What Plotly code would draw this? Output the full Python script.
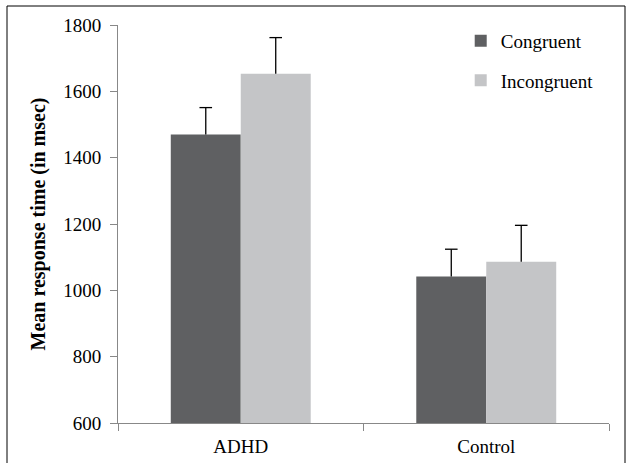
import plotly.graph_objects as go

categories = ["ADHD", "Control"]
congruent = [1470, 1042]
congruent_err = [81, 82]
incongruent = [1653, 1086]
incongruent_err = [109, 110]
y_ticks = [600, 800, 1000, 1200, 1400, 1600, 1800]

FONT = "Liberation Serif"
W, H = 632, 463
L, R, T, B = 118, 23, 25, 40
BARGAP = 0.43

fig = go.Figure()
series = [
    ("Congruent", congruent, congruent_err, "#5f6062", "a"),
    ("Incongruent", incongruent, incongruent_err, "#c4c5c7", "b"),
]
for name, vals, errs, color, grp in series:
    fig.add_trace(go.Bar(
        x=categories, y=vals, name=name, legendgroup=grp, offsetgroup=grp,
        marker=dict(color=color, line=dict(width=0)),
        error_y=dict(type="data", array=errs, symmetric=False,
                     arrayminus=[0] * len(errs), color="black",
                     thickness=1.3, width=0),
    ))
for name, vals, errs, color, grp in series:
    fig.add_trace(go.Scatter(
        x=categories, y=[v + e for v, e in zip(vals, errs)],
        mode="markers", offsetgroup=grp, showlegend=False, hoverinfo="skip",
        marker=dict(symbol="line-ew", size=9, color="black",
                    line=dict(color="black", width=1.3)),
    ))

pw, ph = W - L - R, H - T - B
fig.add_shape(type="rect", xref="paper", yref="paper",
              x0=(7 - L) / pw, x1=(625 - L) / pw,
              y0=-(470 - T - ph) / ph, y1=(T + ph - 6) / ph,
              line=dict(color="black", width=1), layer="below")

fig.update_layout(
    width=W, height=H,
    margin=dict(l=L, r=R, t=T, b=B, pad=0, autoexpand=False),
    paper_bgcolor="white", plot_bgcolor="white",
    barmode="group", bargap=BARGAP, bargroupgap=0,
    scattermode="group", scattergap=BARGAP,
    font=dict(family=FONT, size=19, color="black"),
    showlegend=True,
    legend=dict(x=0.698, y=1.008, xanchor="left", yanchor="top",
                tracegroupgap=12, font=dict(size=19, family=FONT),
                bgcolor="rgba(0,0,0,0)", itemwidth=30),
    xaxis=dict(type="category", showline=True, linecolor="#888888", linewidth=1,
               ticks="outside", tickson="boundaries", ticklen=7, tickcolor="#888888",
               showgrid=False, ticklabelstandoff=6, automargin=False,
               tickfont=dict(size=19, family=FONT)),
    yaxis=dict(range=[600, 1800], tickvals=y_ticks, showline=True,
               linecolor="#888888", linewidth=1, ticks="outside", ticklen=7,
               tickcolor="#888888", showgrid=False, zeroline=False,
               ticklabelstandoff=5, automargin=False, tickfont=dict(size=19, family=FONT),
               title=dict(text="<b>Mean response time (in msec)</b>",
                          font=dict(size=20, family=FONT), standoff=12)),
)

fig.write_html("out.html", post_script="document.body.style.margin='0';",
               config={"displayModeBar": False})
